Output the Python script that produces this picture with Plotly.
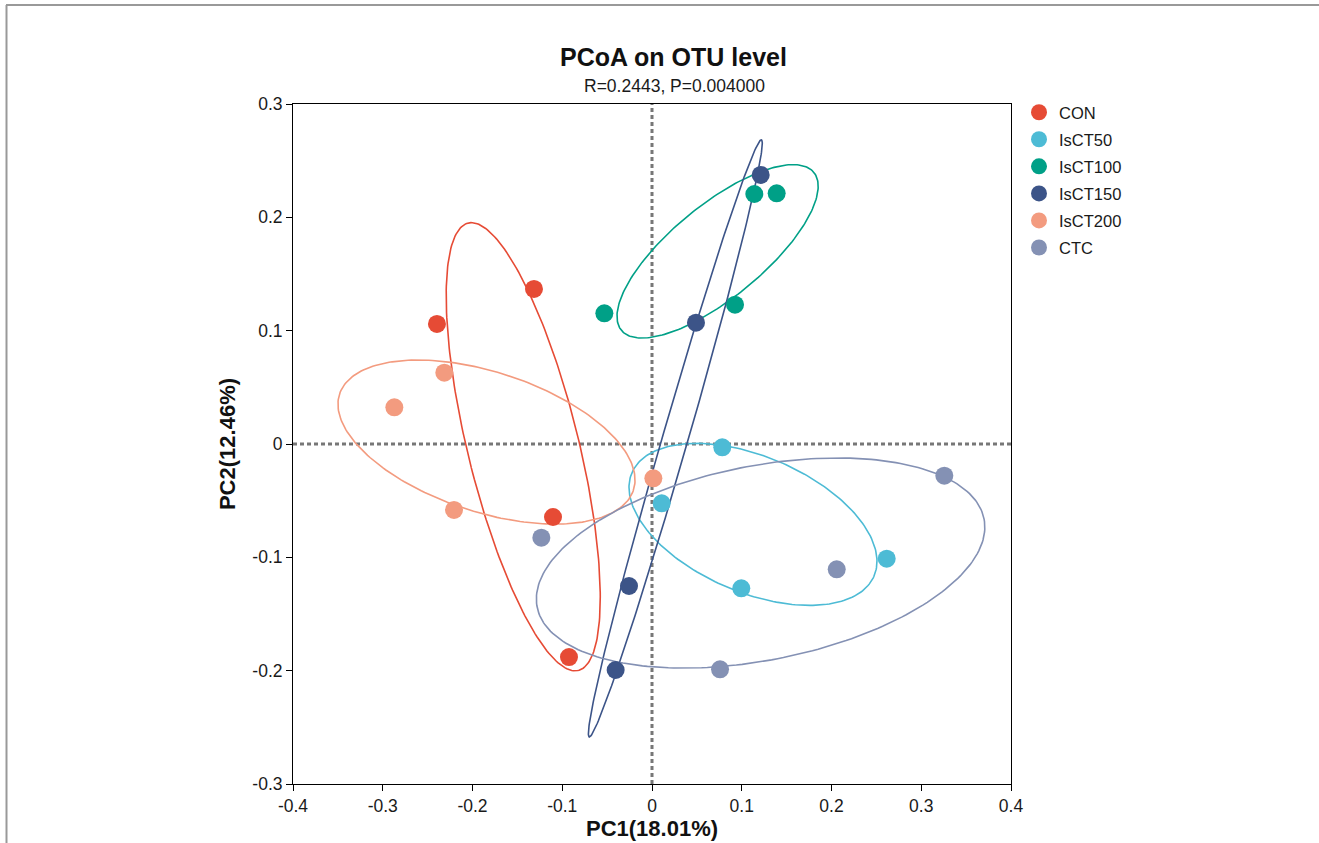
import numpy as np
import plotly.graph_objects as go

groups = ["CON", "IsCT50", "IsCT100", "IsCT150", "IsCT200", "CTC"]
colors = ["#E64B35", "#4DBBD5", "#00A087", "#3C5488", "#F39B7F", "#8491B4"]

con_x = [-0.2396, -0.1315, -0.1103, -0.0925]
con_y = [0.1059, 0.1368, -0.0644, -0.1880]
isct50_x = [0.0783, 0.0108, 0.0995, 0.2615]
isct50_y = [-0.0029, -0.0523, -0.1273, -0.1012]
isct100_x = [-0.0531, 0.0925, 0.1140, 0.1389]
isct100_y = [0.1153, 0.1229, 0.2206, 0.2212]
isct150_x = [0.1211, 0.0490, -0.0256, -0.0405]
isct150_y = [0.2374, 0.1070, -0.1253, -0.1994]
isct200_x = [-0.2314, -0.2871, -0.2206, 0.0015]
isct200_y = [0.0629, 0.0324, -0.0582, -0.0303]
ctc_x = [-0.1233, 0.3257, 0.2058, 0.0758]
ctc_y = [-0.0827, -0.0280, -0.1106, -0.1988]

xs = [con_x, isct50_x, isct100_x, isct150_x, isct200_x, ctc_x]
ys = [con_y, isct50_y, isct100_y, isct150_y, isct200_y, ctc_y]

x_ticks = [-0.4, -0.3, -0.2, -0.1, 0, 0.1, 0.2, 0.3, 0.4]
y_ticks = [-0.3, -0.2, -0.1, 0, 0.1, 0.2, 0.3]
x_ticklabels = ["-0.4", "-0.3", "-0.2", "-0.1", "0", "0.1", "0.2", "0.3", "0.4"]
y_ticklabels = ["-0.3", "-0.2", "-0.1", "0", "0.1", "0.2", "0.3"]

ELLIPSE_SCALE = 1.3


def ellipse(x, y, k=ELLIPSE_SCALE, n=240):
    pts = np.vstack([x, y])
    c = pts.mean(axis=1)
    cov = np.cov(pts)
    vals, vecs = np.linalg.eigh(cov)
    t = np.linspace(0, 2 * np.pi, n)
    circ = np.vstack([np.cos(t), np.sin(t)])
    e = vecs @ (np.sqrt(np.maximum(vals, 0))[:, None] * circ) * k
    return c[0] + e[0], c[1] + e[1]


fig = go.Figure()
FONT = "Arial, Liberation Sans, Helvetica, sans-serif"

# plot area in pixels: x 293..1011, y 104..784
def px(xp):
    return (xp - 293) / 718


def py(yp):
    return (784 - yp) / 680


# reference lines at 0
fig.add_trace(go.Scatter(x=[0, 0], y=[-0.3, 0.3], mode="lines",
                         line=dict(color="#777777", width=3, dash="4px,3px"),
                         showlegend=False, hoverinfo="skip"))
fig.add_trace(go.Scatter(x=[-0.4, 0.4], y=[0, 0], mode="lines",
                         line=dict(color="#777777", width=3, dash="4px,3px"),
                         showlegend=False, hoverinfo="skip"))

for g, c, x, y in zip(groups, colors, xs, ys):
    ex, ey = ellipse(x, y)
    fig.add_trace(go.Scatter(x=ex, y=ey, mode="lines", line=dict(color=c, width=1.6),
                             showlegend=False, legendgroup=g, hoverinfo="skip"))

for g, c, x, y in zip(groups, colors, xs, ys):
    fig.add_trace(go.Scatter(x=x, y=y, mode="markers", name=g, legendgroup=g,
                             marker=dict(color=c, size=18, line=dict(width=0))))

fig.update_layout(
    width=1319, height=843,
    paper_bgcolor="white", plot_bgcolor="white",
    margin=dict(l=293, r=308, t=104, b=59, autoexpand=False),
    font=dict(family=FONT, color="#1a1a1a"),
    showlegend=True,
    legend=dict(x=px(1019), xanchor="left", xref="paper", y=py(95), yanchor="top",
                font=dict(size=16.5, color="#1a1a1a"), tracegroupgap=2.6,
                bgcolor="rgba(0,0,0,0)", itemclick=False),
    annotations=[
        dict(text="<b>PCoA on OTU level</b>", x=px(673), y=py(57), xref="paper", yref="paper",
             showarrow=False, font=dict(size=25, color="#111111"), xanchor="center", yanchor="middle"),
        dict(text="R=0.2443, P=0.004000", x=px(674), y=py(86), xref="paper", yref="paper",
             showarrow=False, font=dict(size=17.5, color="#1a1a1a"), xanchor="center", yanchor="middle"),
    ],
    shapes=[
        dict(type="line", xref="paper", yref="paper",
             x0=px(6.5), x1=px(6.5), y0=py(5), y1=py(850),
             line=dict(color="#999999", width=2)),
        dict(type="line", xref="paper", yref="paper",
             x0=px(6), x1=px(1325), y0=py(5), y1=py(5),
             line=dict(color="#999999", width=2)),
    ],
)

fig.update_xaxes(range=[-0.4, 0.4], tickvals=x_ticks, ticktext=x_ticklabels, automargin=False,
                 showgrid=False, zeroline=False, showline=True, linecolor="black", linewidth=1,
                 mirror=True, ticks="outside", ticklen=6, tickcolor="black",
                 tickfont=dict(size=17.5, color="#1a1a1a"),
                 title=dict(text="<b>PC1(18.01%)</b>", font=dict(size=22, color="#111111"), standoff=2))
fig.update_yaxes(range=[-0.3, 0.3], tickvals=y_ticks, ticktext=y_ticklabels, automargin=False,
                 showgrid=False, zeroline=False, showline=True, linecolor="black", linewidth=1,
                 mirror=True, ticks="outside", ticklen=6, tickcolor="black",
                 tickfont=dict(size=17.5, color="#1a1a1a"),
                 title=dict(text="<b>PC2(12.46%)</b>", font=dict(size=22, color="#111111"), standoff=10))

fig.write_html("out.html", config={"displayModeBar": False},
               post_script="document.body.style.margin='0px';")
